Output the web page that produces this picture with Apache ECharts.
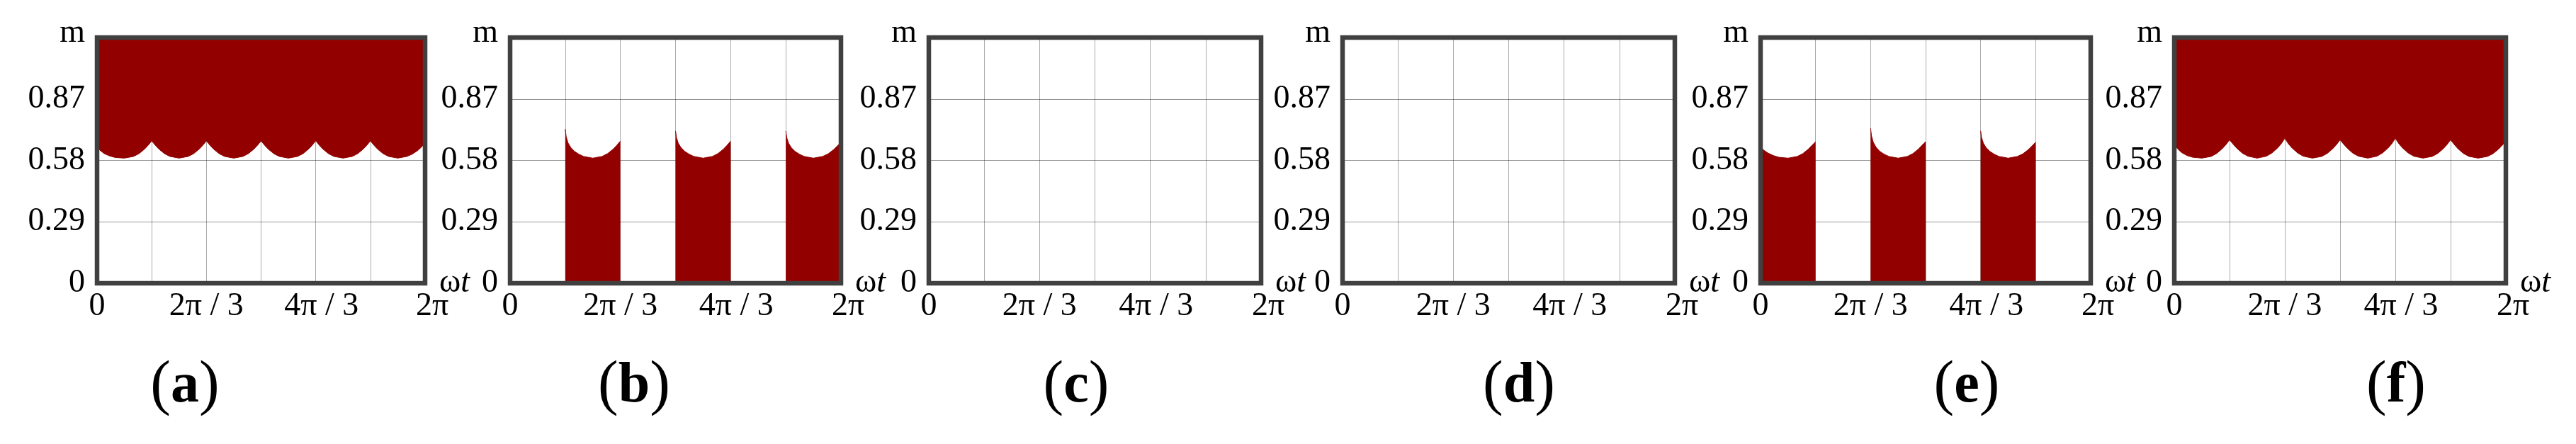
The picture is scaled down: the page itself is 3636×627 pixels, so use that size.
<!DOCTYPE html>
<html>
<head>
<meta charset="utf-8">
<script src="https://cdn.jsdelivr.net/npm/echarts@6/dist/echarts.min.js"></script>
<style>
  html, body { margin: 0; padding: 0; background: #fff; }
  #chart { width: 3636px; height: 627px; }
</style>
</head>
<body>
<div id="chart"></div>
<script>
// ticks
const xTickLabels = ['0', '', '2π / 3', '', '4π / 3', '', '2π']
const yTickLabels = ['0', '0.29', '0.58', '0.87', 'm']
const panelNames = ['a', 'b', 'c', 'd', 'e', 'f']

// ωt in degrees, m
const wtScallop = [
  0, 4, 8, 14, 20, 30, 40, 46, 52, 56, 60,
  64, 68, 74, 80, 90, 100, 106, 112, 116, 120,
  124, 128, 134, 140, 150, 160, 166, 172, 176, 180,
  184, 188, 194, 200, 210, 220, 226, 232, 236, 240,
  244, 248, 254, 260, 270, 280, 286, 292, 296, 300,
  304, 308, 314, 320, 330, 340, 346, 352, 356, 360
]
const mA = [
  0.638, 0.622, 0.609, 0.598, 0.591, 0.588, 0.596, 0.609, 0.630, 0.648, 0.669,
  0.648, 0.630, 0.609, 0.596, 0.588, 0.596, 0.609, 0.630, 0.648, 0.669,
  0.648, 0.630, 0.609, 0.596, 0.588, 0.596, 0.609, 0.630, 0.648, 0.669,
  0.648, 0.630, 0.609, 0.596, 0.588, 0.596, 0.609, 0.630, 0.648, 0.670,
  0.648, 0.630, 0.609, 0.596, 0.588, 0.596, 0.609, 0.630, 0.648, 0.669,
  0.648, 0.630, 0.609, 0.596, 0.588, 0.596, 0.607, 0.624, 0.640, 0.658
]
const mF = [
  0.652, 0.630, 0.614, 0.600, 0.592, 0.588, 0.596, 0.610, 0.632, 0.651, 0.674,
  0.653, 0.634, 0.611, 0.597, 0.588, 0.597, 0.612, 0.635, 0.655, 0.681,
  0.655, 0.635, 0.612, 0.597, 0.588, 0.596, 0.610, 0.632, 0.651, 0.674,
  0.653, 0.634, 0.611, 0.597, 0.588, 0.597, 0.612, 0.635, 0.655, 0.681,
  0.655, 0.635, 0.612, 0.597, 0.588, 0.596, 0.610, 0.632, 0.651, 0.674,
  0.652, 0.632, 0.610, 0.596, 0.588, 0.596, 0.609, 0.630, 0.648, 0.669
]

const wtB = [
  [60, 61, 63, 66, 70, 75, 80, 90, 100, 106, 112, 116, 120],
  [180, 181, 183, 186, 190, 195, 200, 210, 220, 226, 232, 236, 240],
  [300, 301, 303, 306, 310, 315, 320, 330, 340, 346, 352, 356, 360]
]
const mB = [
  [0.725, 0.690, 0.660, 0.638, 0.620, 0.606, 0.596, 0.588, 0.596, 0.609, 0.630, 0.648, 0.668],
  [0.716, 0.685, 0.658, 0.637, 0.620, 0.606, 0.596, 0.588, 0.596, 0.609, 0.630, 0.648, 0.668],
  [0.716, 0.685, 0.658, 0.637, 0.620, 0.606, 0.596, 0.588, 0.596, 0.608, 0.628, 0.645, 0.663]
]
const wtE = [
  [0, 4, 8, 14, 20, 30, 40, 46, 52, 56, 60],
  [120, 121, 123, 126, 130, 135, 140, 150, 160, 166, 172, 176, 180],
  [240, 241, 243, 246, 250, 255, 260, 270, 280, 286, 292, 296, 300]
]
const mE = [
  [0.638, 0.624, 0.612, 0.600, 0.592, 0.588, 0.596, 0.609, 0.630, 0.648, 0.665],
  [0.728, 0.692, 0.662, 0.639, 0.620, 0.606, 0.596, 0.588, 0.596, 0.609, 0.630, 0.648, 0.665],
  [0.716, 0.685, 0.658, 0.637, 0.620, 0.606, 0.596, 0.588, 0.596, 0.608, 0.628, 0.645, 0.663]
]

const yStep = 0.2887
const yMax = 1.1548

// layout
const gridLefts = [137, 720, 1311, 1895, 2485, 3069]
const gridWidths = [463, 467, 469, 469, 466, 468]
const labelXs = [261, 895, 1519, 2144, 2776, 3382]

const font = '"Liberation Serif", "DejaVu Serif", serif'
const red = '#930000'

const chart = echarts.init(document.getElementById('chart'))

const pairs = (xs, ys) => xs.map((x, i) => [x, ys[i]])

const grids = gridLefts.map((left, i) => ({
  left: left,
  top: 53,
  width: gridWidths[i],
  height: 347,
  show: true,
  z: 10,
  backgroundColor: 'transparent',
  borderColor: '#404040',
  borderWidth: 6.5
}))

// the right-hand labels sit a little right of their ticks in the original
const xLabelShift = { 4: 'r8', 6: 'r10' }

const xAxes = gridLefts.map((_, i) => ({
  gridIndex: i,
  type: 'value',
  min: 0,
  max: 360,
  interval: 60,
  z: 3,
  name: '{w|ω}{t|t}',
  nameLocation: 'end',
  nameGap: 20,
  nameMoveOverlap: false,
  nameTextStyle: {
    rich: {
      w: { fontFamily: font, fontSize: 46, color: '#000' },
      t: { fontFamily: font, fontSize: 46, color: '#000', fontStyle: 'italic' }
    }
  },
  axisLine: { show: false },
  axisTick: { show: false },
  splitLine: { show: true, lineStyle: { color: 'rgba(0,0,0,0.33)', width: 1 } },
  axisLabel: {
    margin: 10,
    fontFamily: font,
    fontSize: 46,
    color: '#000',
    formatter: v => {
      const k = Math.round(v / 60)
      const s = xTickLabels[k]
      return xLabelShift[k] ? '{' + xLabelShift[k] + '|' + s + '}' : s
    },
    rich: {
      r8: { fontFamily: font, fontSize: 46, color: '#000', padding: [0, 0, 0, 16] },
      r10: { fontFamily: font, fontSize: 46, color: '#000', padding: [0, 0, 0, 20] }
    }
  }
}))

const yAxes = gridLefts.map((_, i) => ({
  gridIndex: i,
  type: 'value',
  min: 0,
  max: yMax,
  interval: yStep,
  z: 3,
  axisLine: { show: false },
  axisTick: { show: false },
  splitLine: { show: true, lineStyle: { color: 'rgba(0,0,0,0.42)', width: 1 } },
  axisLabel: {
    margin: 17,
    fontFamily: font,
    fontSize: 46,
    color: '#000',
    formatter: v => {
      const k = Math.round(v / yStep)
      return k === 4 ? '{m|' + yTickLabels[k] + '}' : yTickLabels[k]
    },
    rich: {
      m: { fontFamily: font, fontSize: 46, color: '#000', padding: [0, 0, 12, 0] }
    }
  }
}))

const areaSeries = (idx, data, origin) => ({
  type: 'line',
  xAxisIndex: idx,
  yAxisIndex: idx,
  data: data,
  showSymbol: false,
  silent: true,
  lineStyle: { color: red, width: 1 },
  areaStyle: { color: red, opacity: 1, origin: origin }
})

const series = [
  areaSeries(0, pairs(wtScallop, mA), 'end'),
  ...wtB.map((xs, k) => areaSeries(1, pairs(xs, mB[k]), 'start')),
  ...wtE.map((xs, k) => areaSeries(4, pairs(xs, mE[k]), 'start')),
  areaSeries(5, pairs(wtScallop, mF), 'end')
]

const graphic = panelNames.map((n, i) => ({
  type: 'text',
  x: labelXs[i],
  y: 546,
  silent: true,
  style: {
    text: '{p|(}{b|' + n + '}{p|)}',
    align: 'center',
    verticalAlign: 'middle',
    rich: {
      p: { fontFamily: font, fontSize: 86, fill: '#000' },
      b: { fontFamily: font, fontSize: 80, fontWeight: 'bold', fill: '#000' }
    }
  }
}))

chart.setOption({
  animation: false,
  backgroundColor: '#fff',
  grid: grids,
  xAxis: xAxes,
  yAxis: yAxes,
  series: series,
  graphic: graphic
})
</script>
</body>
</html>
